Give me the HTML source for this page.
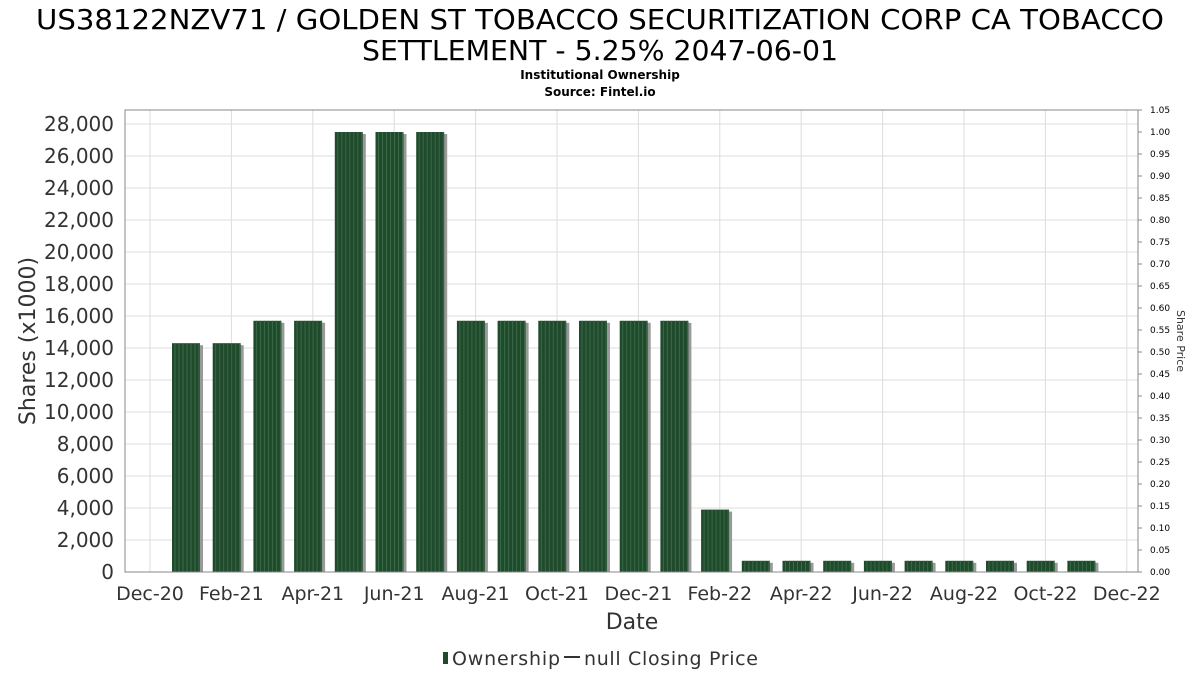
<!DOCTYPE html>
<html><head><meta charset="utf-8"><style>
body{margin:0;background:#fff;font-family:"DejaVu Sans","Liberation Sans",sans-serif}
</style></head><body>
<svg id="c" width="1200" height="675" xmlns="http://www.w3.org/2000/svg">
<text x="600" y="29" font-size="28" text-anchor="middle" textLength="1128" lengthAdjust="spacingAndGlyphs" fill="#000">US38122NZV71 / GOLDEN ST TOBACCO SECURITIZATION CORP CA TOBACCO</text>
<text x="600" y="60" font-size="28" text-anchor="middle" textLength="476" lengthAdjust="spacingAndGlyphs" fill="#000">SETTLEMENT - 5.25% 2047-06-01</text>
<text x="600" y="79" font-size="12" font-weight="bold" text-anchor="middle">Institutional Ownership</text>
<text x="600" y="96" font-size="12" font-weight="bold" text-anchor="middle">Source: Fintel.io</text>
<g id="grid"></g><g id="bars"></g><g id="axes"></g>
<text transform="translate(35,341) rotate(-90)" font-size="22" fill="#333" text-anchor="middle">Shares (x1000)</text>
<text transform="translate(1177,341) rotate(90)" font-size="11" fill="#333" text-anchor="middle">Share Price</text>
<text x="632" y="629" font-size="22" fill="#333" text-anchor="middle">Date</text>
<g>
<rect x="443" y="652" width="5" height="12" fill="#1f4a2c"/>
<text x="452" y="665" font-size="19" fill="#333" textLength="108">Ownership</text>
<line x1="564" y1="657" x2="580" y2="657" stroke="#333" stroke-width="2"/>
<text x="584" y="665" font-size="19" fill="#333" textLength="174">null Closing Price</text>
</g>
</svg>
<script>
const categories=["2021-01","2021-02","2021-03","2021-04","2021-05","2021-06","2021-07","2021-08","2021-09","2021-10","2021-11","2021-12","2022-01","2022-02","2022-03","2022-04","2022-05","2022-06","2022-07","2022-08","2022-09","2022-10","2022-11"];
const ownership=[14300,14300,15700,15700,27500,27500,27500,15700,15700,15700,15700,15700,15700,3900,700,700,700,700,700,700,700,700,700];
const xTicks=["Dec-20","Feb-21","Apr-21","Jun-21","Aug-21","Oct-21","Dec-21","Feb-22","Apr-22","Jun-22","Aug-22","Oct-22","Dec-22"];
const yTicks=[0,2000,4000,6000,8000,10000,12000,14000,16000,18000,20000,22000,24000,26000,28000];
const priceTicks=[0,0.05,0.1,0.15,0.2,0.25,0.3,0.35,0.4,0.45,0.5,0.55,0.6,0.65,0.7,0.75,0.8,0.85,0.9,0.95,1.0,1.05];
const NS="http://www.w3.org/2000/svg";
const L=125,R=1138,T=110,B=572;
const y=v=>B-v*(448/28000);
const yp=v=>B-v*((B-T)/1.05);
const xTick=i=>150+i*81.4;
const xBar=i=>186+i*40.7;
function mk(tag,a,p){const e=document.createElementNS(NS,tag);for(const k in a)e.setAttribute(k,a[k]);p.appendChild(e);return e;}
const g=document.getElementById('grid'),bg=document.getElementById('bars'),ax=document.getElementById('axes');
yTicks.forEach((v,i)=>{
 const l=mk('line',{x1:L,x2:R,y1:y(v),y2:y(v),stroke:'#ddd'},g);
 
 
 const t=mk('text',{x:114,y:y(v)+7,'font-size':20,fill:'#333','text-anchor':'end'},ax);
 t.textContent=v.toLocaleString('en-US');
 
 
});
xTicks.forEach((s,i)=>{
 const l=mk('line',{x1:xTick(i),x2:xTick(i),y1:T,y2:B,stroke:'#ddd'},g);
 
 
 const t=mk('text',{x:xTick(i),y:600,'font-size':19,fill:'#333','text-anchor':'middle'},ax);
 t.textContent=s;
 
 
});
priceTicks.forEach(v=>{
 mk('line',{x1:R,x2:R+4,y1:yp(v),y2:yp(v),stroke:'#888'},ax);
 const t=mk('text',{x:1150,y:yp(v)+3,'font-size':9,fill:'#000'},ax);
 t.textContent=v.toFixed(2);
 
 
});
const f=mk('rect',{x:L,y:T,width:R-L,height:B-T,fill:'none',stroke:'#888'},ax);


ownership.forEach((v,i)=>{
 const cx=xBar(i),top=y(v),h=B-top;
 mk('rect',{x:cx-14+3,y:top+2,width:28,height:h-2,fill:'#999'},bg);
 const r=mk('rect',{x:cx-14,y:top,width:28,height:h,fill:'#1f4a2c'},bg);
 
 
 for(let k=3;k<28;k+=4)mk('line',{x1:cx-14+k,x2:cx-14+k,y1:top,y2:B,stroke:'#3a6a47','stroke-width':1},bg);
});
</script>
</body></html>
